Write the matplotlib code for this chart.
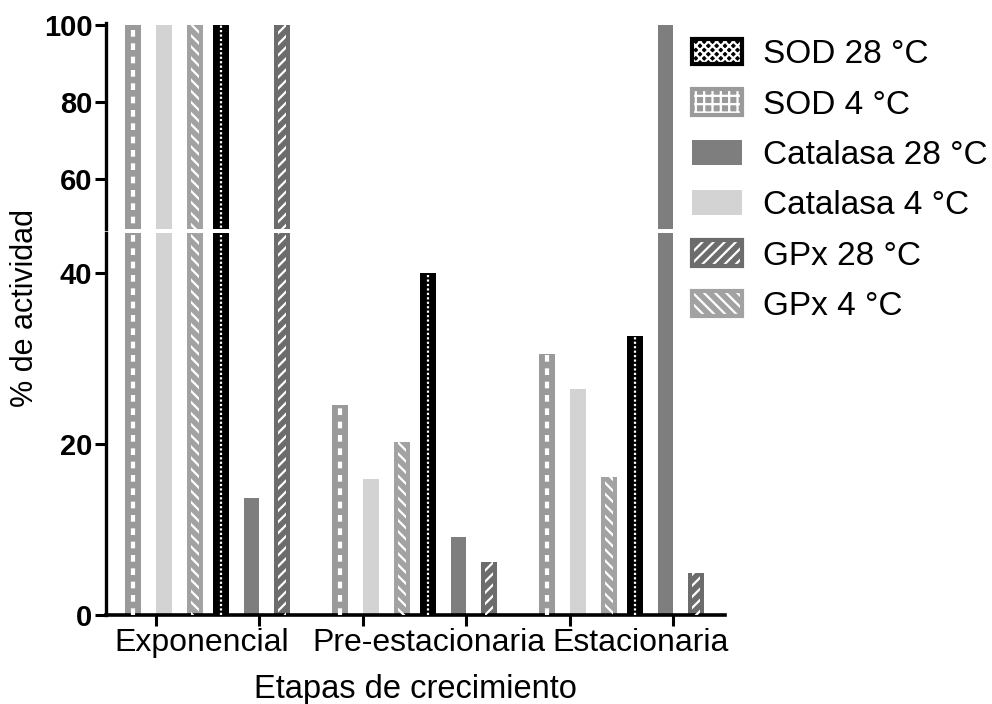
import matplotlib
matplotlib.use("Agg")
import matplotlib.pyplot as plt
from matplotlib.patches import Patch
import numpy as np

plt.rcParams["font.family"] = ["Liberation Sans", "DejaVu Sans"]

# --- data (% de actividad) ---
etapas = ["Exponencial", "Pre-estacionaria", "Estacionaria"]
sod_4 = [100, 24.6, 30.5]
cat_4 = [100, 15.9, 26.5]
gpx_4 = [100, 20.2, 16.1]
sod_28 = [100, 40.0, 32.6]
cat_28 = [13.7, 9.1, 100]
gpx_28 = [100, 6.2, 4.9]

# drawing order inside each group (left to right)
series = [
    ("SOD 4 °C", sod_4, "#9a9a9a", "dash"),
    ("Catalasa 4 °C", cat_4, "#d3d3d3", None),
    ("GPx 4 °C", gpx_4, "#a2a2a2", "\\\\\\"),
    ("SOD 28 °C", sod_28, "#000000", "dot"),
    ("Catalasa 28 °C", cat_28, "#7e7e7e", None),
    ("GPx 28 °C", gpx_28, "#6c6c6c", "///"),
]
offsets = [-0.361, -0.212, -0.063, 0.063, 0.212, 0.361]
width = 0.077
groups = np.arange(len(etapas))


def draw(ax):
    for (name, vals, col, kind), off in zip(series, offsets):
        x = groups + off
        ax.bar(x, vals, width, color=col, lw=0, zorder=2)
        if kind == "dash":
            for xi, v in zip(x, vals):
                ax.plot([xi, xi], [0, v], color="white", lw=3, dashes=(1.6, 1.6), zorder=3)
        elif kind == "dot":
            for xi, v in zip(x, vals):
                ax.plot([xi, xi], [0, v], color="white", lw=1.6, dashes=(1, 1), zorder=3)
        elif kind:
            ax.bar(x, vals, width * 0.5, facecolor="none", edgecolor="white",
                   hatch=kind, lw=0, zorder=3)


fig = plt.figure(figsize=(9.92, 7.04), dpi=100)
ax_lo = fig.add_axes([0.107, 0.1264, 0.624, 0.5426])
ax_hi = fig.add_axes([0.107, 0.6747, 0.624, 0.2898])
plt.rcParams["hatch.linewidth"] = 1.6

for ax in (ax_lo, ax_hi):
    draw(ax)
    ax.set_xlim(-0.49, 2.5)
    for s in ("top", "right"):
        ax.spines[s].set_visible(False)
    ax.spines["left"].set_linewidth(2.4)
    ax.spines["bottom"].set_linewidth(2.6)
    ax.tick_params(axis="y", length=8, width=2.2, pad=2, labelsize=21)

ax_lo.set_ylim(0, 44.7)
ax_lo.set_yticks([0, 20, 40])
ax_hi.set_ylim(47, 100)
ax_hi.set_yticks([60, 80, 100])
for ax in (ax_lo, ax_hi):
    for t in ax.get_yticklabels():
        t.set_fontweight("bold")

ax_hi.spines["bottom"].set_visible(False)
ax_hi.set_xticks([])
ax_hi.spines["left"].set_bounds(47, 100.4)

label_x = [-0.03, 1.07, 2.09]
ax_lo.set_xticks(label_x)
ax_lo.set_xticklabels(etapas, fontsize=23)
ax_lo.tick_params(axis="x", which="major", length=0, pad=9)
ax_lo.set_xticks(np.concatenate([groups - 0.25, groups + 0.25]), minor=True)
ax_lo.tick_params(axis="x", which="minor", length=8, width=2.2)
ax_lo.set_xlabel("Etapas de crecimiento", fontsize=23.5, labelpad=12)

fig.text(0.025, 0.562, "% de actividad", rotation=90, fontsize=22,
         ha="center", va="center")

# legend handles: base colour + pattern + border
legend_order = [3, 0, 4, 1, 5, 2]
handles, labels = [], []
for i in legend_order:
    name, vals, col, kind = series[i]
    if kind is None:
        h = Patch(facecolor=col, lw=0)
    else:
        hatch = {"dash": "++", "dot": "xxxx"}.get(kind, kind)
        h = (Patch(facecolor=col, lw=0),
             Patch(facecolor="none", edgecolor="white", hatch=hatch, lw=0),
             Patch(facecolor="none", edgecolor=col, lw=3))
    handles.append(h)
    labels.append(name)

fig.legend(handles, labels, loc="upper left", bbox_to_anchor=(692 / 992, 1 - 39 / 704),
           frameon=False, fontsize=24, handlelength=1.5, handleheight=0.8,
           handletextpad=0.62, labelspacing=0.57, borderpad=0, borderaxespad=0)

fig.savefig("out.png", dpi=100)
